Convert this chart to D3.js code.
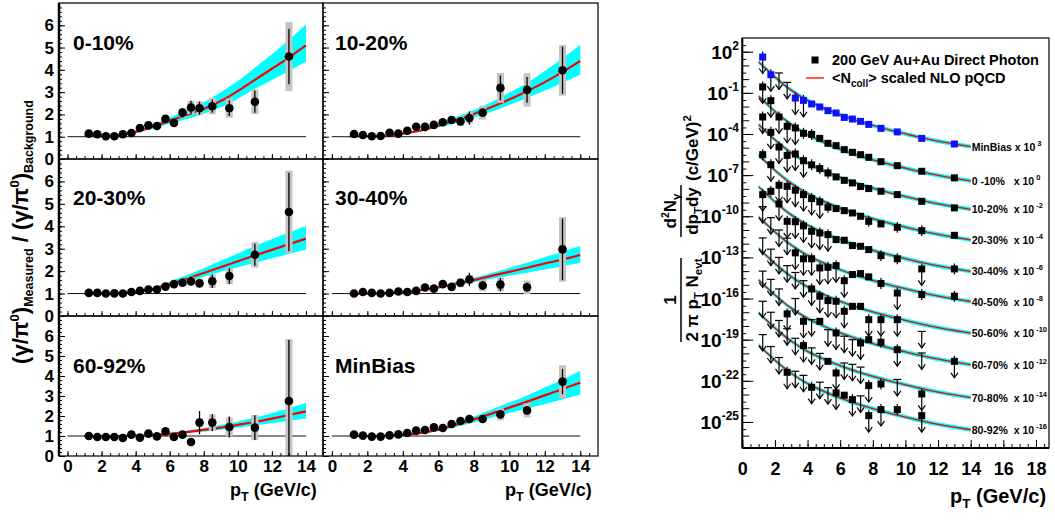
<!DOCTYPE html>
<html>
<head>
<meta charset="utf-8">
<script src="https://cdn.jsdelivr.net/npm/d3@7"></script>
<style>
  body { margin: 0; background: #fff; }
  svg { font-family: "Liberation Sans", Arial, sans-serif; font-weight: bold; }
  .pre { white-space: pre; }
</style>
</head>
<body>
<div id="chart"></div>
<script>
// ---------- Datos: paneles de cociente (izquierda) ----------
const ptBins = [1.25, 1.75, 2.25, 2.75, 3.25, 3.75, 4.25, 4.75, 5.25, 5.75, 6.25, 6.75, 7.25, 7.75, 8.5, 9.5, 11, 13]
const ptCurve = [1, 2, 3, 4, 5, 6, 7, 8, 9, 10, 11, 12, 13, 14]
const yTicksLeft = [0, 1, 2, 3, 4, 5, 6]
const xTicksLeft = [0, 2, 4, 6, 8, 10, 12, 14]

const ratio010 = [1.14, 1.11, 1.02, 1.02, 1.11, 1.17, 1.39, 1.51, 1.48, 1.80, 1.62, 2.08, 2.31, 2.28, 2.37, 2.28, 2.57, 4.60]
const stat010 = [0.03, 0.03, 0.03, 0.03, 0.04, 0.05, 0.06, 0.07, 0.08, 0.1, 0.12, 0.2, 0.3, 0.3, 0.3, 0.35, 0.5, 1.25]
const sys010 = [0.05, 0.05, 0.05, 0.05, 0.06, 0.07, 0.08, 0.1, 0.1, 0.12, 0.12, 0.2, 0.3, 0.3, 0.37, 0.43, 0.55, 1.55]
const nlo010 = [1.05, 1.03, 1.05, 1.22, 1.45, 1.72, 1.98, 2.25, 2.6, 3.05, 3.55, 4.05, 4.55, 5.1]
const nloHi010 = [1.06, 1.04, 1.07, 1.27, 1.55, 1.86, 2.2, 2.55, 3.0, 3.5, 4.1, 4.7, 5.35, 6.05]
const nloLo010 = [1.04, 1.02, 1.03, 1.17, 1.36, 1.58, 1.8, 2.03, 2.32, 2.7, 3.15, 3.55, 3.95, 4.36]

const ratio1020 = [1.12, 1.08, 1.02, 1.03, 1.18, 1.14, 1.27, 1.45, 1.44, 1.53, 1.65, 1.75, 1.69, 1.84, 2.08, 3.19, 3.10, 3.98]
const stat1020 = [0.03, 0.03, 0.03, 0.03, 0.04, 0.05, 0.06, 0.07, 0.08, 0.1, 0.12, 0.15, 0.15, 0.3, 0.2, 0.55, 0.58, 1.06]
const sys1020 = [0.05, 0.05, 0.05, 0.05, 0.06, 0.07, 0.08, 0.1, 0.1, 0.12, 0.12, 0.15, 0.2, 0.25, 0.31, 0.67, 0.75, 1.14]
const nlo1020 = [1.02, 1.02, 1.05, 1.14, 1.28, 1.5, 1.74, 2.02, 2.33, 2.67, 3.04, 3.45, 3.9, 4.4]
const nloHi1020 = [1.03, 1.03, 1.07, 1.18, 1.35, 1.6, 1.88, 2.2, 2.56, 2.97, 3.41, 3.95, 4.52, 5.13]
const nloLo1020 = [1.01, 1.01, 1.03, 1.1, 1.22, 1.41, 1.62, 1.86, 2.12, 2.42, 2.74, 3.07, 3.42, 3.79]

const ratio2030 = [1.03, 1.03, 1.0, 1.01, 1.0, 1.07, 1.12, 1.18, 1.18, 1.31, 1.42, 1.48, 1.55, 1.46, 1.55, 1.78, 2.73, 4.64]
const stat2030 = [0.03, 0.03, 0.03, 0.03, 0.04, 0.05, 0.06, 0.07, 0.08, 0.1, 0.12, 0.15, 0.2, 0.2, 0.3, 0.35, 0.49, 1.75]
const sys2030 = [0.05, 0.05, 0.05, 0.05, 0.06, 0.07, 0.08, 0.1, 0.1, 0.12, 0.12, 0.15, 0.2, 0.2, 0.3, 0.36, 0.57, 1.84]
const nlo2030 = [1.0, 1.0, 1.02, 1.07, 1.2, 1.42, 1.66, 1.92, 2.18, 2.44, 2.7, 2.95, 3.2, 3.45]
const nloHi2030 = [1.0, 1.0, 1.03, 1.1, 1.27, 1.54, 1.83, 2.13, 2.46, 2.79, 3.12, 3.42, 3.72, 4.01]
const nloLo2030 = [1.0, 1.0, 1.01, 1.05, 1.15, 1.33, 1.53, 1.75, 1.97, 2.17, 2.37, 2.57, 2.77, 2.97]

const ratio3040 = [1.0, 1.07, 1.03, 1.0, 1.03, 1.09, 1.07, 1.12, 1.27, 1.22, 1.42, 1.30, 1.48, 1.63, 1.36, 1.40, 1.28, 2.97]
const stat3040 = [0.03, 0.03, 0.03, 0.03, 0.04, 0.05, 0.06, 0.07, 0.08, 0.1, 0.12, 0.15, 0.15, 0.3, 0.2, 0.3, 0.2, 1.37]
const sys3040 = [0.05, 0.05, 0.05, 0.05, 0.06, 0.07, 0.08, 0.1, 0.1, 0.12, 0.12, 0.15, 0.2, 0.2, 0.25, 0.3, 0.3, 1.44]
const nlo3040 = [1.0, 1.0, 1.02, 1.06, 1.15, 1.28, 1.44, 1.6, 1.79, 1.97, 2.15, 2.34, 2.52, 2.72]
const nloHi3040 = [1.0, 1.0, 1.03, 1.08, 1.19, 1.34, 1.52, 1.7, 1.92, 2.14, 2.37, 2.62, 2.87, 3.12]
const nloLo3040 = [1.0, 1.0, 1.01, 1.04, 1.11, 1.22, 1.36, 1.5, 1.66, 1.8, 1.93, 2.07, 2.22, 2.37]

const ratio6092 = [1.0, 0.95, 0.95, 0.95, 0.9, 1.07, 0.92, 1.12, 0.98, 1.23, 0.95, 1.07, 0.70, 1.67, 1.67, 1.45, 1.42, 2.75]
const stat6092 = [0.05, 0.05, 0.05, 0.05, 0.06, 0.07, 0.08, 0.1, 0.1, 0.12, 0.12, 0.15, 0.1, 0.58, 0.43, 0.52, 0.62, 3.05]
const sys6092 = [0.06, 0.06, 0.06, 0.06, 0.07, 0.08, 0.09, 0.1, 0.1, 0.12, 0.12, 0.15, 0.15, 0.2, 0.4, 0.48, 0.63, 3.1]
const nlo6092 = [1.0, 1.0, 1.0, 1.02, 1.05, 1.11, 1.2, 1.31, 1.42, 1.56, 1.7, 1.87, 2.05, 2.23]
const nloHi6092 = [1.0, 1.0, 1.01, 1.03, 1.08, 1.16, 1.27, 1.4, 1.55, 1.72, 1.92, 2.14, 2.39, 2.65]
const nloLo6092 = [1.0, 1.0, 1.0, 1.01, 1.03, 1.07, 1.14, 1.23, 1.31, 1.42, 1.53, 1.64, 1.76, 1.87]

const ratioMB = [1.07, 1.02, 0.97, 0.97, 1.03, 1.08, 1.15, 1.27, 1.30, 1.43, 1.40, 1.60, 1.75, 1.85, 1.85, 2.08, 2.28, 3.72]
const statMB = [0.02, 0.02, 0.02, 0.02, 0.03, 0.03, 0.04, 0.05, 0.05, 0.06, 0.07, 0.08, 0.09, 0.1, 0.12, 0.15, 0.15, 0.63]
const sysMB = [0.04, 0.04, 0.04, 0.04, 0.05, 0.05, 0.06, 0.07, 0.08, 0.09, 0.1, 0.11, 0.12, 0.13, 0.15, 0.3, 0.35, 0.82]
const nloMBr = [1.0, 1.0, 1.02, 1.06, 1.16, 1.32, 1.56, 1.83, 2.12, 2.42, 2.72, 3.03, 3.35, 3.67]
const nloHiMBr = [1.0, 1.0, 1.03, 1.09, 1.21, 1.4, 1.68, 1.98, 2.32, 2.67, 3.03, 3.42, 3.83, 4.25]
const nloLoMBr = [1.0, 1.0, 1.01, 1.03, 1.11, 1.25, 1.45, 1.68, 1.92, 2.15, 2.37, 2.6, 2.84, 3.08]

// ---------- Datos: espectros (derecha), log10 del rendimiento ----------
const specLabels = ["MinBias x 10", "0 -10%   x 10", "10-20%  x 10", "20-30%  x 10", "30-40%  x 10",
  "40-50%  x 10", "50-60%  x 10", "60-70%  x 10", "70-80%  x 10", "80-92%  x 10"]
const specExp = ["3", "0", "-2", "-4", "-6", "-8", "-10", "-12", "-14", "-16"]
// NLO pQCD escalado (MinBias x 10^3) y desplazamiento log10 de cada clase
const nloPt = [1, 1.5, 2, 2.5, 3, 3.5, 4, 4.5, 5, 6, 7, 8, 9, 10, 11, 12, 13, 14]
const nloMB = [1.25, 0.7, 0.15, -0.35, -0.8, -1.2, -1.55, -1.85, -2.12, -2.6, -3.02, -3.38, -3.7, -3.99, -4.27, -4.52, -4.73, -4.92]
const nloShift = [0, -2.5, -4.57, -6.8, -9.1, -11.3, -13.6, -15.9, -18.3, -20.65]
const nloBand = 0.15
// tipos: p punto, e punto con error, a punto con flecha, u limite superior, - nada
const specMB = [1.61, 0.32, 0.45, -0.24, -1.38, -1.55, -1.81, -2.03, -2.30, -2.47, -2.79, -2.91, -3.08, -3.30, -3.59, -3.85, -4.32, -4.73]
const kindMB = "aauuaapppppppppppp"
const spec010 = [-0.57, -1.57, -2.76, -3.44, -3.56, -3.95, -4.03, -4.32, -4.68, -4.85, -5.14, -5.34, -5.51, -5.70, -6.02, -6.31, -6.72, -7.20]
const kind010 = "aaaaaeeppppppppppp"
const spec1020 = [-2.76, -3.88, -4.95, -5.56, -5.46, -5.95, -6.25, -6.52, -6.84, -7.13, -7.38, -7.57, -7.83, -7.98, -8.18, -8.42, -8.91, -9.39]
const kind1020 = "aaaaaaeeeppppppppp"
const spec2030 = [-5.51, -6.24, -7.74, -7.82, -8.10, -8.42, -8.71, -8.95, -9.34, -9.44, -9.59, -9.76, -10.0, -10.37, -10.56, -10.81, -11.05, -11.39]
const kind2030 = "eaaaaaaaeppppepeep"
const spec3040 = [-8.42, -8.18, -9.10, -10.37, -10.40, -10.70, -11.10, -11.22, -11.34, -11.70, -11.75, -12.14, -12.19, -12.43, -12.87, -13.10, -13.84, -13.84]
const kind3040 = "aeaaaaaaapppppeeae"
const spec4050 = [-9.3, -10.1, -11.0, -11.6, -12.67, -13.10, -13.10, -13.77, -13.72, -13.60, -14.70, -14.25, -14.18, -14.42, -14.90, -15.60, -15.71, -15.83]
const kind4050 = "uuuuaaaaaaapppeaee"
const spec5060 = [-11.58, -12.4, -13.0, -13.6, -14.1, -14.7, -15.3, -15.83, -16.15, -16.20, -16.93, -16.57, -16.57, -17.54, -17.54, -17.54, -18.40, 0]
const kind5060 = "uuuuuuaaaaappaaau-"
const spec6070 = [-14.0, -14.6, -15.3, -17.12, -16.0, -17.66, -17.54, -17.66, -18.27, -18.51, -18.75, -19.0, -19.24, -19.00, -19.19, -19.73, -19.97, -20.58]
const kind6070 = "uuuauaupuauuapeaua"
const spec7080 = [-16.2, -17.0, -17.6, -18.2, -18.9, -19.43, -19.6, -20.0, -20.58, -21.43, -20.7, -20.8, -21.0, -22.35, -22.23, -21.9, -22.96, 0]
const kind7080 = "uuuuuauupauuuaeua-"
const spec8092 = [-18.63, -19.5, -20.3, -21.38, -21.3, -21.6, -22.47, -22.1, -22.5, -22.88, -23.05, -23.37, -23.1, -24.54, -24.10, -24.10, -24.54, 0]
const kind8092 = "uuuauuauuapauaaea-"
const xTicksRight = [0, 2, 4, 6, 8, 10, 12, 14, 16, 18]

// ---------- Construcción ----------
const svg = d3.select("#chart").append("svg").attr("width", 1055).attr("height", 521)
svg.append("rect").attr("width", 1055).attr("height", 521).attr("fill", "#fff")

const panels = [
  { name: "0-10%", r: ratio010, st: stat010, sy: sys010, c: nlo010, hi: nloHi010, lo: nloLo010 },
  { name: "10-20%", r: ratio1020, st: stat1020, sy: sys1020, c: nlo1020, hi: nloHi1020, lo: nloLo1020 },
  { name: "20-30%", r: ratio2030, st: stat2030, sy: sys2030, c: nlo2030, hi: nloHi2030, lo: nloLo2030 },
  { name: "30-40%", r: ratio3040, st: stat3040, sy: sys3040, c: nlo3040, hi: nloHi3040, lo: nloLo3040 },
  { name: "60-92%", r: ratio6092, st: stat6092, sy: sys6092, c: nlo6092, hi: nloHi6092, lo: nloLo6092 },
  { name: "MinBias", r: ratioMB, st: statMB, sy: sysMB, c: nloMBr, hi: nloHiMBr, lo: nloLoMBr }
]

const cols = [[59, 323], [323, 598]]
const rows = [[3, 159], [159, 316], [316, 456]]
const labelBase = [50, 205, 373]

panels.forEach((p, i) => {
  const col = i % 2, row = Math.floor(i / 2)
  const x = d3.scaleLinear().domain([-0.5, 15]).range(cols[col])
  const y = d3.scaleLinear().domain([0, 7]).range([rows[row][1], rows[row][0]])
  const g = svg.append("g")

  // banda y curva NLO
  g.append("path")
    .datum(ptCurve)
    .attr("d", d3.area().x((d) => x(d)).y0((d, j) => y(p.lo[j])).y1((d, j) => y(p.hi[j])).curve(d3.curveMonotoneX))
    .attr("fill", "#00ffff")
  g.append("path")
    .datum(ptCurve)
    .attr("d", d3.line().x((d) => x(d)).y((d, j) => y(p.c[j])).curve(d3.curveMonotoneX))
    .attr("fill", "none")
    .attr("stroke", "#ff0000")
    .attr("stroke-width", 2.2)

  // linea en 1
  g.append("line")
    .attr("x1", x(0)).attr("x2", x(14))
    .attr("y1", y(1)).attr("y2", y(1))
    .attr("stroke", "#111").attr("stroke-width", 1)

  // sistematicos
  g.selectAll(".sys")
    .data(ptBins)
    .join("rect")
    .attr("x", (d) => x(d) - 3.5)
    .attr("width", 7)
    .attr("y", (d, j) => y(Math.min(7, p.r[j] + p.sy[j])))
    .attr("height", (d, j) => y(Math.max(0, p.r[j] - p.sy[j])) - y(Math.min(7, p.r[j] + p.sy[j])))
    .attr("fill", "#c4c4c4")

  // estadisticos
  g.selectAll(".stat")
    .data(ptBins)
    .join("line")
    .attr("x1", (d) => x(d)).attr("x2", (d) => x(d))
    .attr("y1", (d, j) => y(Math.min(7, p.r[j] + p.st[j])))
    .attr("y2", (d, j) => y(Math.max(0, p.r[j] - p.st[j])))
    .attr("stroke", "#000").attr("stroke-width", 1.3)

  g.selectAll(".pt")
    .data(ptBins)
    .join("circle")
    .attr("cx", (d) => x(d))
    .attr("cy", (d, j) => y(p.r[j]))
    .attr("r", 4.3)
    .attr("fill", "#000")

  // ejes
  const ax = g.append("g").attr("transform", `translate(0,${y(0)})`)
  ax.append("g").call(d3.axisBottom(x).tickValues(d3.range(0, 30).map((k) => k * 0.5)).tickSize(-3).tickFormat(""))
  ax.append("g").call(d3.axisBottom(x).tickValues(xTicksLeft).tickSize(-5).tickPadding(4)
    .tickFormat(row === 2 ? d3.format("d") : () => ""))
  const ay = g.append("g").attr("transform", `translate(${x(-0.5)},0)`)
  ay.append("g").call(d3.axisLeft(y).tickValues(d3.range(0, 35).map((k) => k * 0.2)).tickSize(-3).tickFormat(""))
  ay.append("g").call(d3.axisLeft(y).tickValues(yTicksLeft).tickSize(-6).tickPadding(5)
    .tickFormat(col === 0 ? d3.format("d") : () => ""))
  g.selectAll(".domain").remove()
  g.selectAll(".tick line").attr("stroke", "#000")
  g.selectAll(".tick text").attr("font-size", 17).attr("font-weight", "bold")
    .attr("font-family", "Liberation Sans, Arial, sans-serif").attr("fill", "#000")

  // marco
  g.append("rect")
    .attr("x", cols[col][0]).attr("y", rows[row][0])
    .attr("width", cols[col][1] - cols[col][0]).attr("height", rows[row][1] - rows[row][0])
    .attr("fill", "none").attr("stroke", "#000").attr("stroke-width", 1.2)

  g.append("text")
    .attr("x", cols[col][0] + (col === 0 ? 14 : 12))
    .attr("y", labelBase[row])
    .attr("font-size", 21)
    .text(p.name)
})
svg.append("line").attr("x1", 59).attr("x2", 59).attr("y1", 3).attr("y2", 456).attr("stroke", "#000").attr("stroke-width", 2.5)

// titulos eje izquierdo
;[230, 505].forEach((xp) => {
  const t = svg.append("text").attr("x", xp).attr("y", 496).attr("font-size", 18)
  t.append("tspan").text("p")
  t.append("tspan").attr("font-size", 12.5).attr("dy", 5).text("T")
  t.append("tspan").attr("dy", -5).text(" (GeV/c)")
})
{
  const t = svg.append("text")
    .attr("transform", "translate(28,232) rotate(-90)")
    .attr("text-anchor", "middle")
    .attr("font-size", 22)
  t.append("tspan").text("(γ/π")
  t.append("tspan").attr("font-size", 13).attr("dy", -9).text("0")
  t.append("tspan").attr("dy", 9).text(")")
  t.append("tspan").attr("font-size", 12.5).attr("dy", 5).text("Measured")
  t.append("tspan").attr("dy", -5).text(" / (γ/π")
  t.append("tspan").attr("font-size", 13).attr("dy", -9).text("0")
  t.append("tspan").attr("dy", 9).text(")")
  t.append("tspan").attr("font-size", 12.5).attr("dy", 5).text("Background")
}

// ---------- Panel derecho ----------
const xR = d3.scaleLinear().domain([0, 18.8]).range([742.3, 1049])
const yR = d3.scaleLog().domain([Math.pow(10, -26.9), 1e3]).range([448, 38])
const gR = svg.append("g")

const series = [
  [specMB, kindMB], [spec010, kind010], [spec1020, kind1020], [spec2030, kind2030], [spec3040, kind3040],
  [spec4050, kind4050], [spec5060, kind5060], [spec6070, kind6070], [spec7080, kind7080], [spec8092, kind8092]
]

nloShift.forEach((s, k) => {
  gR.append("path")
    .datum(nloPt)
    .attr("d", d3.area().x((d) => xR(d))
      .y0((d, j) => yR(Math.pow(10, nloMB[j] + s - nloBand)))
      .y1((d, j) => yR(Math.pow(10, nloMB[j] + s + nloBand))).curve(d3.curveMonotoneX))
    .attr("fill", "#00ffff")
  gR.append("path")
    .datum(nloPt)
    .attr("d", d3.line().x((d) => xR(d)).y((d, j) => yR(Math.pow(10, nloMB[j] + s))).curve(d3.curveMonotoneX))
    .attr("fill", "none").attr("stroke", "#ff0000").attr("stroke-width", 1.3)
})

const arrowLen = 1.2
function arrow(g, xp, yTop, yBot, cap) {
  g.append("line").attr("x1", xp).attr("x2", xp).attr("y1", yTop).attr("y2", yBot)
  if (cap) g.append("line").attr("x1", xp - 4).attr("x2", xp + 4).attr("y1", yTop).attr("y2", yTop)
  g.append("path").attr("d", `M${xp - 3.5},${yBot - 5}L${xp},${yBot}L${xp + 3.5},${yBot - 5}`).attr("fill", "none")
}

series.forEach(([vals, kinds], k) => {
  const g = gR.append("g").attr("stroke", "#000").attr("stroke-width", 1.2)
  ptBins.forEach((pt, j) => {
    const kind = kinds[j]
    if (kind === "-") return
    const xp = xR(pt)
    const yp = yR(Math.pow(10, vals[j]))
    const yDown = yR(Math.pow(10, vals[j] - arrowLen))
    if (kind === "u") {
      arrow(g, xp, yp, yDown, true)
      return
    }
    if (kind === "a") arrow(g, xp, yp, yDown, false)
    if (kind === "e" || kind === "a")
      g.append("line").attr("x1", xp).attr("x2", xp)
        .attr("y1", yR(Math.pow(10, vals[j] + 0.4))).attr("y2", kind === "e" ? yR(Math.pow(10, vals[j] - 0.4)) : yp)
    g.append("rect")
      .attr("x", xp - 3.5).attr("y", yp - 3.5).attr("width", 7).attr("height", 7)
      .attr("fill", k === 0 ? "#1010ff" : "#000").attr("stroke", "none")
  })
  // etiqueta al final de la curva
  const t = gR.append("text")
    .attr("class", "pre")
    .attr("x", xR(14) + 1)
    .attr("y", yR(Math.pow(10, nloMB[nloMB.length - 1] + nloShift[k])) + 4)
    .attr("font-size", 10.5)
  t.append("tspan").text(specLabels[k])
  t.append("tspan").attr("font-size", 7.5).attr("dx", 2).attr("dy", -5).text(specExp[k])
})

// ejes derecho
const axR = gR.append("g").attr("transform", "translate(0,448)")
axR.append("g").call(d3.axisBottom(xR).tickValues(d3.range(0, 38).map((k) => k * 0.5)).tickSize(-4).tickFormat(""))
axR.append("g").call(d3.axisBottom(xR).tickValues(xTicksRight).tickSize(-8).tickPadding(14).tickFormat(d3.format("d")))
const decades = d3.range(-26, 3)
const labeled = decades.filter((e) => (e + 25) % 3 === 0)
const ayR = gR.append("g").attr("transform", "translate(742.3,0)")
ayR.append("g").call(d3.axisLeft(yR).tickValues(decades.map((e) => 3 * Math.pow(10, e))).tickSize(-4).tickFormat(""))
ayR.append("g").call(d3.axisLeft(yR).tickValues(decades.map((e) => Math.pow(10, e))).tickSize(-7).tickFormat(""))
ayR.append("g").call(d3.axisLeft(yR).tickValues(labeled.map((e) => Math.pow(10, e))).tickSize(-11).tickFormat(""))
gR.selectAll(".domain").remove()
gR.selectAll(".tick line").attr("stroke", "#000")
gR.selectAll(".tick text").attr("font-size", 18).attr("font-weight", "bold")
  .attr("font-family", "Liberation Sans, Arial, sans-serif").attr("fill", "#000")

gR.selectAll(".ylab")
  .data(labeled)
  .join("text")
  .attr("x", 739)
  .attr("y", (e) => yR(Math.pow(10, e)) + 7)
  .attr("text-anchor", "end")
  .attr("font-size", 19)
  .each(function (e) {
    const t = d3.select(this)
    t.append("tspan").text("10")
    t.append("tspan").attr("font-size", 12).attr("dy", -9).text(e)
  })

gR.append("rect").attr("x", 742.3).attr("y", 38).attr("width", 1049 - 742.3).attr("height", 410)
  .attr("fill", "none").attr("stroke", "#000").attr("stroke-width", 1.2)
gR.append("line").attr("x1", 742.3).attr("x2", 742.3).attr("y1", 38).attr("y2", 448).attr("stroke", "#000").attr("stroke-width", 2)
gR.append("line").attr("x1", 742.3).attr("x2", 1049).attr("y1", 448).attr("y2", 448).attr("stroke", "#000").attr("stroke-width", 2)

// leyenda
gR.append("rect").attr("x", 811.5).attr("y", 56.5).attr("width", 7).attr("height", 7).attr("fill", "#000")
gR.append("text").attr("x", 832).attr("y", 65).attr("font-size", 14.5).text("200 GeV Au+Au Direct Photon")
gR.append("line").attr("x1", 806).attr("x2", 824).attr("y1", 78).attr("y2", 78).attr("stroke", "#ff0000").attr("stroke-width", 1.3)
{
  const t = gR.append("text").attr("x", 832).attr("y", 83).attr("font-size", 14.5)
  t.append("tspan").text("<N")
  t.append("tspan").attr("font-size", 10).attr("dy", 4).text("coll")
  t.append("tspan").attr("dy", -4).text("> scaled NLO pQCD")
}

// titulo eje x derecho
{
  const t = gR.append("text").attr("x", 950).attr("y", 503).attr("font-size", 20)
  t.append("tspan").text("p")
  t.append("tspan").attr("font-size", 13.5).attr("dy", 5).text("T")
  t.append("tspan").attr("dy", -5).text(" (GeV/c)")
}

// titulo eje y derecho (fracciones)
{
  const gt = gR.append("g").attr("transform", "rotate(-90)").attr("font-size", 17)
  gt.append("text").attr("x", -300).attr("y", 676).attr("text-anchor", "middle").text("1")
  gt.append("line").attr("x1", -342).attr("x2", -258).attr("y1", 681).attr("y2", 681).attr("stroke", "#000").attr("stroke-width", 1.5)
  const den = gt.append("text").attr("x", -300).attr("y", 698).attr("text-anchor", "middle")
  den.append("tspan").text("2 π p")
  den.append("tspan").attr("font-size", 11.5).attr("dy", 4).text("T")
  den.append("tspan").attr("dy", -4).text(" N")
  den.append("tspan").attr("font-size", 11.5).attr("dy", 4).text("evt")
  const num = gt.append("text").attr("x", -211).attr("y", 676).attr("text-anchor", "middle")
  num.append("tspan").text("d")
  num.append("tspan").attr("font-size", 10.5).attr("dy", -7).text("2")
  num.append("tspan").attr("dy", 7).text("N")
  num.append("tspan").attr("font-size", 11.5).attr("dy", 4).text("γ")
  gt.append("line").attr("x1", -237).attr("x2", -185).attr("y1", 681).attr("y2", 681).attr("stroke", "#000").attr("stroke-width", 1.5)
  const d2 = gt.append("text").attr("x", -211).attr("y", 698).attr("text-anchor", "middle")
  d2.append("tspan").text("dp")
  d2.append("tspan").attr("font-size", 11.5).attr("dy", 4).text("T")
  d2.append("tspan").attr("dy", -4).text("dy")
  const u = gt.append("text").attr("x", -181).attr("y", 698)
  u.append("tspan").text("(c/GeV)")
  u.append("tspan").attr("font-size", 11.5).attr("dy", -7).text("2")
}
</script>
</body>
</html>
